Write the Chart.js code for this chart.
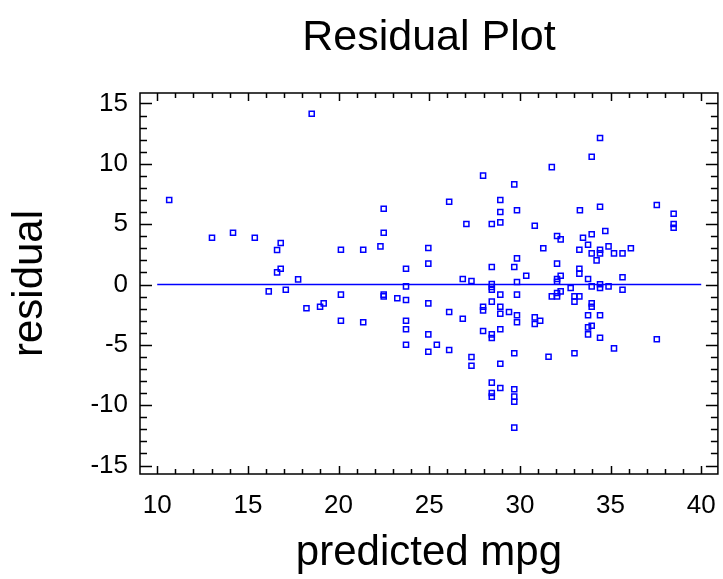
<!DOCTYPE html>
<html>
<head>
<meta charset="utf-8">
<script src="https://cdn.jsdelivr.net/npm/chart.js@4.4.1/dist/chart.umd.min.js"></script>
<style>
  html, body { margin:0; padding:0; background:#fff; }
  #wrap { width:723px; height:579px; }
</style>
</head>
<body>
<div id="wrap"><canvas id="chartResid" width="723" height="579"></canvas></div>
<script>
// ── Datos ─────────────────────────────────────────────────────────────────────
const PRED_MPG = [
  10.66, 18.52, 13.02, 14.18, 15.38, 16.81, 16.61, 16.81, 16.61, 17.77,
  16.15, 17.09, 18.23, 18.98, 19.18, 27.97, 29.69, 26.10, 28.92, 22.49,
  28.92, 29.84, 27.05, 28.45, 28.92, 22.49, 20.13, 21.36, 22.31, 24.95,
  23.72, 24.95, 28.45, 29.69, 29.84, 26.85, 27.33, 28.45, 28.45, 29.84,
  28.45, 23.72, 20.13, 22.49, 22.49, 23.24, 23.72, 24.95, 28.92, 29.84,
  26.10, 26.85, 27.97, 27.97, 28.45, 28.92, 28.92, 29.40, 29.84, 29.84,
  20.13, 21.36, 23.72, 23.72, 23.72, 24.95, 24.95, 25.42, 26.10, 27.33,
  27.33, 27.97, 28.45, 28.45, 28.92, 29.69, 28.92, 28.45, 28.92, 28.45,
  28.45, 29.69, 29.69, 29.69, 29.69, 34.42, 33.96, 31.76, 33.31, 34.42,
  37.55, 38.48, 38.48, 38.48, 30.82, 32.05, 32.25, 33.48, 33.96, 34.71,
  31.29, 33.28, 33.76, 34.89, 33.96, 34.42, 34.42, 35.19, 35.66, 36.12,
  34.23, 32.05, 33.28, 33.28, 30.35, 32.25, 33.76, 35.66, 32.05, 32.05,
  34.42, 34.42, 33.96, 34.89, 35.66, 32.80, 31.76, 32.05, 32.05, 32.25,
  33.01, 33.28, 33.01, 33.96, 33.96, 30.82, 31.12, 30.82, 33.76, 34.42,
  33.76, 33.96, 33.76, 34.42, 37.55, 35.19, 31.58, 33.01
];
const RESIDUAL = [
   7.00, 14.15,  3.88,  4.29,  3.88,  3.44,  2.86,  1.31,  1.01,  0.43,
  -0.57, -0.43, -1.97, -1.84, -1.56,  9.02,  8.30,  6.86,  7.00,  6.28,
   6.01,  6.15,  5.01,  5.01,  5.15,  4.29,  2.88,  2.88,  3.16,  3.02,
   1.31,  1.73,  1.45,  1.45,  2.17,  0.46,  0.29,  0.05, -0.20,  0.21,
  -0.43, -0.15, -0.84, -0.84, -0.98, -1.14, -1.28, -1.56, -0.84, -0.84,
  -2.28, -2.83, -1.84, -2.14, -1.42, -1.84, -2.42, -2.28, -2.55, -3.13,
  -3.00, -3.13, -3.00, -3.71, -4.99, -4.13, -5.57, -4.99, -5.43, -6.01,
  -6.73, -3.85, -4.13, -4.43, -3.71, -5.70, -6.56, -8.13, -8.57, -8.99,
  -9.29, -8.68, -9.29, -9.71,-11.86, 12.14, 10.59,  9.73,  6.15,  6.45,
   6.59,  5.87,  5.01,  4.71,  4.87,  4.02,  3.74,  3.88,  4.16,  4.43,
   3.00,  2.88,  3.30,  3.16,  2.58,  2.88,  2.58,  2.58,  2.58,  3.00,
   2.00,  1.73,  1.31,  0.90,  0.73,  0.73,  0.46,  0.60,  0.46,  0.23,
   0.02, -0.29, -0.15, -0.15, -0.43, -0.29, -0.98, -0.98, -0.70, -0.57,
  -0.98, -0.98, -1.42, -1.56, -1.84, -2.72, -3.00, -3.27, -2.55, -2.55,
  -3.55, -3.41, -4.13, -4.41, -4.54, -5.29, -5.98, -5.70
];
const LINEA_X  = [10, 40];
const LINEA_Y  = [0, 0];
const X_TICKS  = [10, 15, 20, 25, 30, 35, 40];
const Y_TICKS  = [-15, -10, -5, 0, 5, 10, 15];

const blue = '#0000FF';
const FONT = 'Liberation Sans, Arial, sans-serif';

// ── Marco con marcas hacia adentro ────────────────────────────────────────────
const marco = { id:'marco', afterDatasetsDraw(chart) {
    const {ctx, chartArea:a, scales:{x, y}} = chart;
    ctx.save();
    ctx.strokeStyle = '#000';
    ctx.lineWidth = 1.5;
    ctx.strokeRect(a.left, a.top, a.right - a.left, a.bottom - a.top);
    ctx.beginPath();
    for (let v = X_TICKS[0]; v <= X_TICKS[X_TICKS.length-1]; v++) {
        const px = Math.round(x.getPixelForValue(v)) + 0.5;
        const len = v % 5 === 0 ? 8 : 5;
        ctx.moveTo(px, a.top);    ctx.lineTo(px, a.top + len);
        ctx.moveTo(px, a.bottom); ctx.lineTo(px, a.bottom - len);
    }
    for (let v = Y_TICKS[0]; v <= Y_TICKS[Y_TICKS.length-1]; v++) {
        const py = Math.round(y.getPixelForValue(v)) + 0.5;
        const len = v % 5 === 0 ? 12 : 7;
        ctx.moveTo(a.left, py);  ctx.lineTo(a.left + len, py);
        ctx.moveTo(a.right, py); ctx.lineTo(a.right - len, py);
    }
    ctx.stroke();
    ctx.restore();
}};

new Chart(document.getElementById('chartResid'), {
    data: {
        datasets: [
            { type:'scatter', data: PRED_MPG.map((v,i) => ({x:v, y:RESIDUAL[i]})),
              pointStyle:'rect', radius:3.6, borderColor:blue, borderWidth:1.5,
              backgroundColor:'rgba(255,255,255,0)', pointHoverRadius:3.6 },
            { type:'line', data: LINEA_X.map((v,i) => ({x:v, y:LINEA_Y[i]})),
              borderColor:blue, borderWidth:1.5, pointRadius:0, fill:false }
        ]
    },
    options: {
        responsive:false, animation:false, devicePixelRatio:1,
        layout:{ padding:{ right:3, left:0, top:0, bottom:0 } },
        plugins:{
            legend:{ display:false }, tooltip:{ enabled:false },
            title:{ display:true, text:'Residual Plot', fullSize:false, color:'#000',
                    font:{ family:FONT, size:43, weight:'normal', lineHeight:1.2 },
                    padding:{ top:12, bottom:29.4 } }
        },
        scales:{
            x:{ type:'linear', min:9.05, max:40.92,
                grid:{ display:false, drawTicks:false }, border:{ display:false },
                afterBuildTicks: s => { s.ticks = X_TICKS.map(v => ({value:v})); },
                afterFit: s => { s.height = 105; s.paddingLeft = 0; s.paddingRight = 0; },
                ticks:{ color:'#000', padding:16, maxRotation:0, font:{ family:FONT, size:26 } },
                title:{ display:true, text:'predicted mpg', color:'#000', padding:{ top:0, bottom:0 },
                        font:{ family:FONT, size:42, lineHeight:1.2 } } },
            y:{ type:'linear', min:-15.7, max:15.87,
                grid:{ display:false, drawTicks:false }, border:{ display:false },
                afterBuildTicks: s => { s.ticks = Y_TICKS.map(v => ({value:v})); },
                afterFit: s => { s.width = 140; s.paddingTop = 0; s.paddingBottom = 0; },
                ticks:{ color:'#000', padding:12, font:{ family:FONT, size:26 } },
                title:{ display:true, text:'residual', color:'#000', padding:{ top:5, bottom:0 },
                        font:{ family:FONT, size:42, lineHeight:1.2 } } }
        }
    },
    plugins:[marco]
});
</script>
</body>
</html>
